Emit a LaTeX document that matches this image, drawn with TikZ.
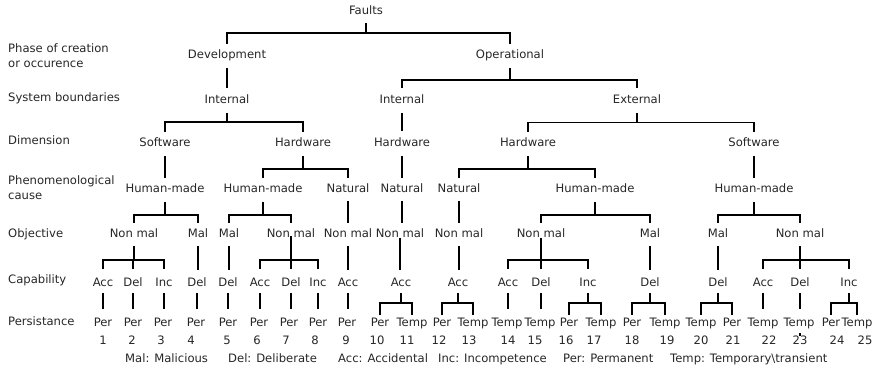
\documentclass[tikz,border=0pt]{standalone}
\usepackage{fontspec}
\setmainfont{DejaVu Sans}
\usetikzlibrary{calc}
\definecolor{ink}{HTML}{262626}

% straight drop from a parent node to the child below it
% #1 parent, #2 gap below parent, #3 child, #4 gap above child
\newcommand\tlink[4]{\draw[conn] ($(#1)+(0,#2)$) -- ($(#1 |- #3)+(0,-#4)$);}
% bracket fork: stem from parent down to a bar, ticks down to each child
% #1 parent, #2 gap below parent, #3 bar level, #4 gap above children, #5 children
\newcommand\tfork[5]{%
  \draw[conn] ($(#1)+(0,#2)$) -- (#1 |- 0,#3);
  \foreach \kid in {#5}{\draw[conn] (#1 |- 0,#3) -- (\kid |- 0,#3) -- ($(\kid)+(0,-#4)$);}}

\begin{document}
\begin{tikzpicture}[x=1pt,y=-1pt,
  lbl/.style={inner sep=0pt, text height=8.5pt, text depth=2.5pt, text=ink,
              font=\fontsize{11.6}{14}\selectfont},
  key/.style={lbl, anchor=west},
  conn/.style={line width=1.8pt, black}]
\useasboundingbox (0,0) rectangle (878,372);

% row captions
\node[key] (capA) at (8,49)  {Phase of creation};
\node[key] (capB) at (8,64)  {or occurence};
\node[key] (capC) at (8,98)  {System boundaries};
\node[key] (capD) at (8,141) {Dimension};
\node[key] (capE) at (8,181) {Phenomenological};
\node[key] (capF) at (8,196) {cause};
\node[key] (capG) at (8,234) {Objective};
\node[key] (capH) at (8,280) {Capability};
\node[key] (capI) at (8,322) {Persistance};

% upper levels
\node[lbl] (faults) at (366,11) {Faults};
\node[lbl] (dev)  at (227,55)  {Development};
\node[lbl] (op)   at (510,55)  {Operational};
\node[lbl] (int1) at (227,100) {Internal};
\node[lbl] (int2) at (402,100) {Internal};
\node[lbl] (ext)  at (637,100) {External};
\node[lbl] (sw1)  at (165,143) {Software};
\node[lbl] (hw1)  at (303,143) {Hardware};
\node[lbl] (hw2)  at (402,143) {Hardware};
\node[lbl] (hw3)  at (528,143) {Hardware};
\node[lbl] (sw2)  at (754,143) {Software};
\node[lbl] (hm1)  at (165,189) {Human-made};
\node[lbl] (hm2)  at (263,189) {Human-made};
\node[lbl] (nat1) at (348,189) {Natural};
\node[lbl] (nat2) at (402,189) {Natural};
\node[lbl] (nat3) at (459,189) {Natural};
\node[lbl] (hm3)  at (595,189) {Human-made};
\node[lbl] (hm4)  at (754,189) {Human-made};

% objective
\node[lbl] (nm1)  at (134,234) {Non mal};
\node[lbl] (mal1) at (198,234) {Mal};
\node[lbl] (mal2) at (229,234) {Mal};
\node[lbl] (nm2)  at (291,234) {Non mal};
\node[lbl] (nm3)  at (348,234) {Non mal};
\node[lbl] (nm4)  at (400,234) {Non mal};
\node[lbl] (nm5)  at (459,234) {Non mal};
\node[lbl] (nm6)  at (541,234) {Non mal};
\node[lbl] (mal3) at (650,234) {Mal};
\node[lbl] (mal4) at (718,234) {Mal};
\node[lbl] (nm7)  at (800,234) {Non mal};

% capability
\node[lbl] (acc1) at (103,283) {Acc};
\node[lbl] (del1) at (133,283) {Del};
\node[lbl] (inc1) at (164,283) {Inc};
\node[lbl] (del2) at (197,283) {Del};
\node[lbl] (del3) at (228,283) {Del};
\node[lbl] (acc2) at (260,283) {Acc};
\node[lbl] (del4) at (291,283) {Del};
\node[lbl] (inc2) at (318,283) {Inc};
\node[lbl] (acc3) at (348,283) {Acc};
\node[lbl] (acc4) at (401,283) {Acc};
\node[lbl] (acc5) at (458,283) {Acc};
\node[lbl] (acc6) at (508,283) {Acc};
\node[lbl] (del5) at (541,283) {Del};
\node[lbl] (inc3) at (588,283) {Inc};
\node[lbl] (del6) at (650,283) {Del};
\node[lbl] (del7) at (718,283) {Del};
\node[lbl] (acc7) at (763,283) {Acc};
\node[lbl] (del8) at (800,283) {Del};
\node[lbl] (inc4) at (849,283) {Inc};

% persistence
\node[lbl] (p1)  at (103,323) {Per};
\node[lbl] (p2)  at (133,323) {Per};
\node[lbl] (p3)  at (163,323) {Per};
\node[lbl] (p4)  at (196,323) {Per};
\node[lbl] (p5)  at (228,323) {Per};
\node[lbl] (p6)  at (259,323) {Per};
\node[lbl] (p7)  at (289,323) {Per};
\node[lbl] (p8)  at (318,323) {Per};
\node[lbl] (p9)  at (347,323) {Per};
\node[lbl] (p10) at (380,323) {Per};
\node[lbl] (p11) at (412,323) {Temp};
\node[lbl] (p12) at (442,323) {Per};
\node[lbl] (p13) at (473,323) {Temp};
\node[lbl] (p14) at (507,323) {Temp};
\node[lbl] (p15) at (540,323) {Temp};
\node[lbl] (p16) at (569,323) {Per};
\node[lbl] (p17) at (601,323) {Temp};
\node[lbl] (p18) at (632,323) {Per};
\node[lbl] (p19) at (665,323) {Temp};
\node[lbl] (p20) at (701,323) {Temp};
\node[lbl] (p21) at (732,323) {Per};
\node[lbl] (p22) at (763,323) {Temp};
\node[lbl] (p23) at (799,323) {Temp};
\node[lbl] (p24) at (831,323) {Per};
\node[lbl] (p25) at (857,323) {Temp};

% leaf numbers
\foreach \num/\xx in {1/103,2/132,3/161,4/191,5/227,6/257,7/286,8/315,9/346,
  10/377,11/407,12/439,13/469,14/508,15/535,16/566,17/594,18/632,19/667,
  20/701,21/733,22/769,23/800,24/837,25/865}
  \node[lbl] (n\num) at (\xx,341) {\num};

% abbreviations
\node[key] (kMal)  at (125,359) {Mal: Malicious};
\node[key] (kDel)  at (228,359) {Del: Deliberate};
\node[key] (kAcc)  at (338,359) {Acc: Accidental};
\node[key] (kInc)  at (438,359) {Inc: Incompetence};
\node[key] (kPer)  at (563,359) {Per: Permanent};
\node[key] (kTemp) at (670,359) {Temp: Temporary\textbackslash transient};

% connectors, top down
\tfork{faults}{12}{33}{11}{dev,op}
\tlink{dev}{13}{int1}{12}
\tfork{op}{13}{80}{12}{int2,ext}
\tfork{int1}{13}{122}{11}{sw1,hw1}
\tlink{int2}{13}{hw2}{12}
\tfork{ext}{13}{122.5}{11}{hw3,sw2}

\tlink{sw1}{13}{hm1}{11}
\tfork{hw1}{13}{169}{11}{hm2,nat1}
\tlink{hw2}{13}{nat2}{11}
\tfork{hw3}{13}{169}{11}{nat3,hm3}
\tlink{sw2}{13}{hm4}{11}

\tfork{hm1}{13}{215}{11}{nm1,mal1}
\tfork{hm2}{13}{215}{11}{mal2,nm2}
\tlink{nat1}{12}{nm3}{11}
\tlink{nat2}{12}{nm4}{11}
\tlink{nat3}{12}{nm5}{11}
\tfork{hm3}{13}{215}{11}{nm6,mal3}
\tfork{hm4}{13}{215}{11}{mal4,nm7}

\tfork{nm1}{12}{260}{14}{acc1,del1,inc1}
\tlink{mal1}{12}{del2}{13}
\tlink{mal2}{12}{del3}{13}
\tfork{nm2}{2}{260}{14}{acc2,del4,inc2}
\tlink{nm3}{12}{acc3}{13}
\tlink{nm4}{4}{acc4}{13}
\tlink{nm5}{12}{acc5}{13}
\tfork{nm6}{4}{260}{14}{acc6,del5,inc3}
\tlink{mal3}{12}{del6}{13}
\tlink{mal4}{12}{del7}{13}
\tfork{nm7}{12}{260}{14}{acc7,del8,inc4}

\foreach \cap/\per in {acc1/p1,del1/p2,inc1/p3,del2/p4,del3/p5,acc2/p6,
  del4/p7,inc2/p8,acc3/p9,acc6/p14,del5/p15,acc7/p22,del8/p23}
  \tlink{\cap}{10}{\per}{14}
\tfork{acc4}{10}{303}{8}{p10,p11}
\tfork{acc5}{10}{303}{8}{p12,p13}
\tfork{inc3}{10}{303}{8}{p16,p17}
\tfork{del6}{10}{303}{8}{p18,p19}
\tfork{del7}{10}{303}{8}{p20,p21}
\tfork{inc4}{10}{303}{8}{p24,p25}
\draw[conn] ($(del8 |- p23)+(0,10)$) -- ++(0,2.5);
\end{tikzpicture}
\end{document}
